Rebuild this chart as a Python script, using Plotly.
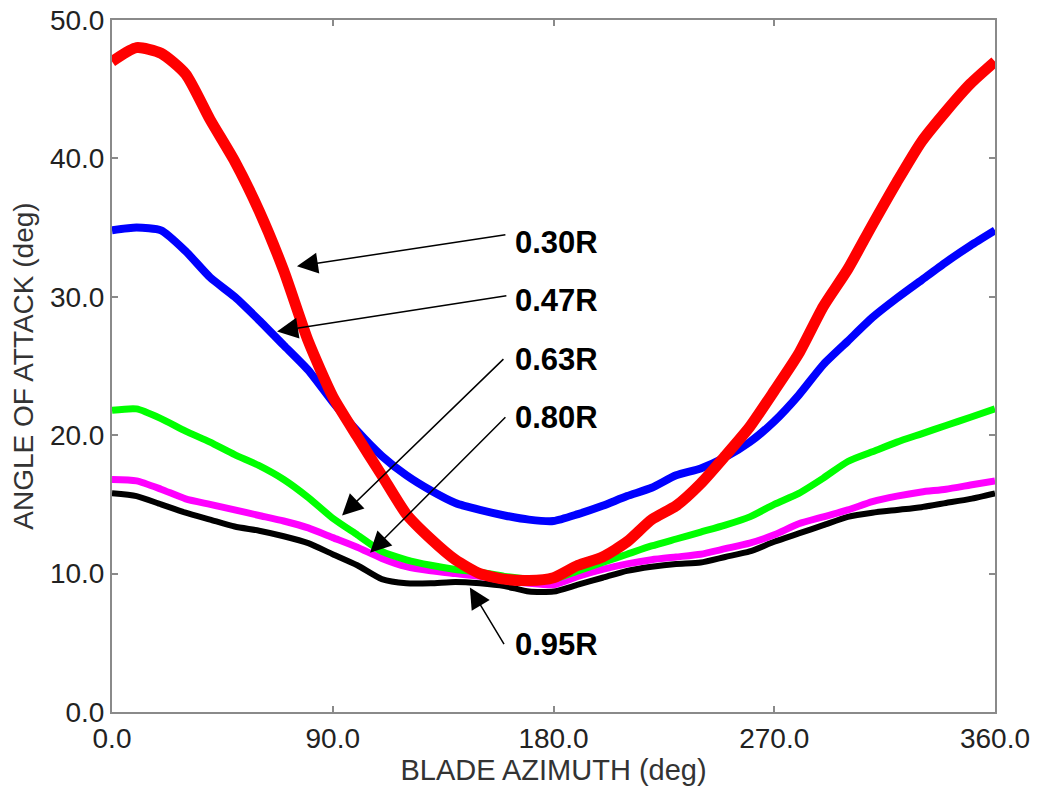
import plotly.graph_objects as go

azimuth = [0, 10, 20, 30, 40, 50, 60, 70, 80, 90, 100, 110, 120, 130, 140, 150, 160, 170, 180,
           190, 200, 210, 220, 230, 240, 250, 260, 270, 280, 290, 300, 310, 320, 330, 340, 350, 360]

r030 = [47.0, 48.0, 47.6, 46.1, 42.8, 39.8, 36.2, 31.9, 26.8, 22.8, 19.9, 17.1, 14.3, 12.5, 11.0, 10.0,
        9.6, 9.5, 9.7, 10.6, 11.2, 12.3, 13.9, 14.9, 16.5, 18.5, 20.6, 23.2, 25.9, 29.3, 32.0, 35.2,
        38.3, 41.2, 43.4, 45.4, 47.0]
r047 = [34.8, 35.0, 34.8, 33.3, 31.4, 30.0, 28.3, 26.5, 24.7, 22.4, 20.3, 18.5, 17.1, 16.0, 15.1, 14.6,
        14.2, 13.9, 13.8, 14.3, 14.9, 15.6, 16.2, 17.1, 17.6, 18.4, 19.5, 21.0, 22.9, 25.1, 26.8, 28.5,
        29.9, 31.2, 32.5, 33.7, 34.8]
r063 = [21.8, 21.9, 21.2, 20.3, 19.5, 18.6, 17.8, 16.8, 15.5, 14.0, 12.8, 11.6, 11.0, 10.6, 10.3, 10.1,
        9.8, 9.6, 9.6, 10.2, 10.8, 11.4, 12.0, 12.5, 13.0, 13.5, 14.1, 15.0, 15.8, 16.9, 18.1, 18.8,
        19.5, 20.1, 20.7, 21.3, 21.9]
r080 = [16.8, 16.7, 16.1, 15.4, 15.0, 14.6, 14.2, 13.8, 13.3, 12.6, 11.9, 11.1, 10.5, 10.2, 10.0, 9.8,
        9.5, 9.3, 9.2, 9.8, 10.3, 10.7, 11.0, 11.2, 11.4, 11.8, 12.2, 12.8, 13.6, 14.1, 14.6, 15.2,
        15.6, 15.9, 16.1, 16.4, 16.7]
r095 = [15.8, 15.6, 15.0, 14.4, 13.9, 13.4, 13.1, 12.7, 12.2, 11.4, 10.6, 9.6, 9.3, 9.3, 9.4, 9.3,
        9.1, 8.7, 8.7, 9.2, 9.7, 10.2, 10.5, 10.7, 10.8, 11.2, 11.6, 12.3, 12.9, 13.5, 14.1, 14.4,
        14.6, 14.8, 15.1, 15.4, 15.8]

labels = ["0.30R", "0.47R", "0.63R", "0.80R", "0.95R"]
# arrow heads (x, y) and tails (x, y) in data units, and label anchor positions
head_x = [75.4, 67.3, 93.8, 105.2, 145.9]
head_y = [32.2, 27.5, 14.2, 11.5, 9.0]
tail_x = [161.0, 161.4, 160.2, 161.0, 160.2]
tail_y = [34.5, 30.1, 25.6, 21.4, 4.8]
label_x = [163.5, 163.5, 163.5, 163.5, 163.5]
label_y = [33.9, 29.7, 25.5, 21.3, 4.9]

xticks = [0, 90, 180, 270, 360]
yticks = [0, 10, 20, 30, 40, 50]

series = [
    (r095, "#000000", 6),
    (r080, "#ff00ff", 7),
    (r063, "#00ff00", 7),
    (r047, "#0000ff", 8),
    (r030, "#ff0000", 11),
]

fig = go.Figure()
for vals, col, w in series:
    fig.add_trace(go.Scatter(x=azimuth, y=vals, mode="lines",
                             line=dict(color=col, width=w, shape="spline", smoothing=0.6),
                             showlegend=False, hoverinfo="skip"))

font_family = "Liberation Sans, Arial, Helvetica, sans-serif"

for i, lab in enumerate(labels):
    fig.add_annotation(x=head_x[i], y=head_y[i], ax=tail_x[i], ay=tail_y[i],
                       xref="x", yref="y", axref="x", ayref="y", text="",
                       showarrow=True, arrowhead=2, arrowwidth=1.5, arrowsize=2.8,
                       arrowcolor="#000000", standoff=0)
    fig.add_annotation(x=label_x[i], y=label_y[i], xref="x", yref="y", text="<b>%s</b>" % lab,
                       showarrow=False, xanchor="left", yanchor="middle",
                       font=dict(family=font_family, size=31, color="#000000"))

axis_common = dict(showline=True, linecolor="#8a8a8a", linewidth=2, mirror="ticks",
                   ticks="inside", ticklen=6, tickwidth=1.5, tickcolor="#8a8a8a",
                   showgrid=False, zeroline=False, ticklabeloverflow="allow",
                   tickfont=dict(family=font_family, size=28, color="#222222"))

fig.update_xaxes(range=[0, 360], tickvals=xticks, ticktext=["%.1f" % v for v in xticks],
                 title=dict(text="BLADE AZIMUTH (deg)", standoff=2,
                            font=dict(family=font_family, size=29, color="#333333")),
                 **axis_common)
fig.update_yaxes(range=[0, 50], tickvals=yticks, ticktext=["%.1f" % v for v in yticks],
                 title=dict(text="ANGLE OF ATTACK (deg)", standoff=10,
                            font=dict(family=font_family, size=28, color="#333333")),
                 **axis_common)

fig.update_layout(width=1031, height=779, margin=dict(l=104, r=44, t=12, b=75, autoexpand=False),
                  plot_bgcolor="white", paper_bgcolor="white")

fig.write_html("out.html")
